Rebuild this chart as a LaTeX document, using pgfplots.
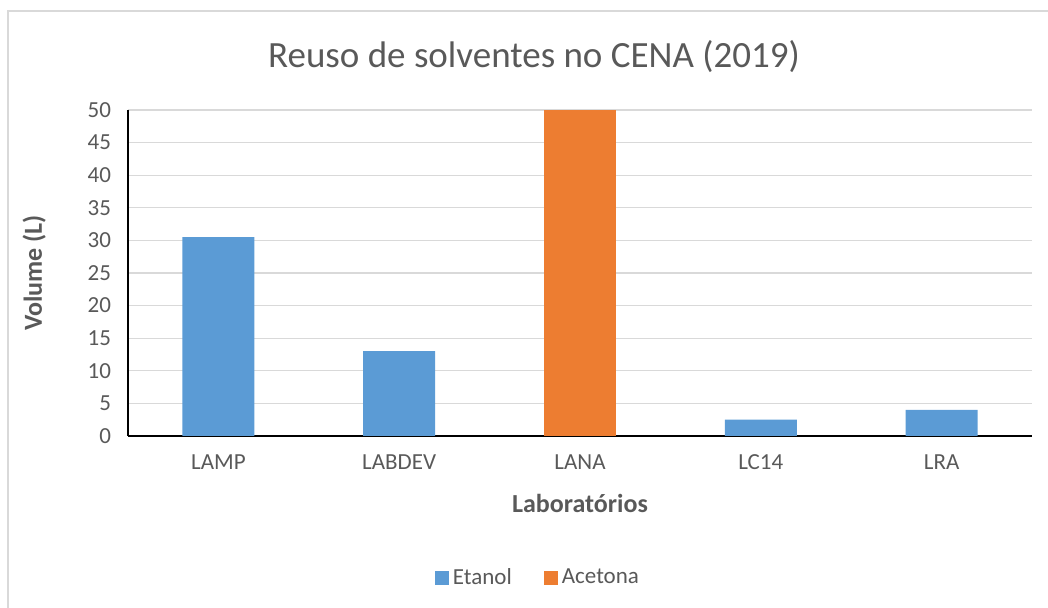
\documentclass[border=0pt]{standalone}
\usepackage{pgfplots}
\pgfplotsset{compat=1.18}
\usepackage{fontspec}
\setmainfont{Carlito}
\definecolor{etanol}{HTML}{5B9BD5}
\definecolor{acetona}{HTML}{ED7D31}
\definecolor{gridc}{HTML}{D9D9D9}
\definecolor{txt}{HTML}{595959}
\begin{document}
\begin{tikzpicture}
\useasboundingbox (0,0) rectangle (524pt,304pt);
\draw[gridc, line width=0.8pt] (4pt,-10pt) -- (4pt,298.5pt) -- (540pt,298.5pt);
\node[txt, font=\fontsize{18.5}{22}\selectfont] at (267pt,275.5pt) {Reuso de solventes no CENA (2019)};
\begin{axis}[
  at={(64pt,86pt)}, anchor=south west,
  scale only axis, width=452pt, height=163pt,
  xmin=-0.5, xmax=4.5, ymin=0, ymax=50,
  ytick={0,5,...,50},
  xtick={0,1,2,3,4},
  xticklabels={LAMP,LABDEV,LANA,LC14,LRA},
  major tick length=0pt,
  axis x line*=bottom, axis y line*=left,
  axis line style={black, line width=0.8pt},
  x axis line style={-}, y axis line style={-},
  xmajorgrids=false, ymajorgrids=true, grid style={gridc, line width=0.6pt},
  /pgf/number format/assume math mode=true,
  tick label style={txt, font=\fontsize{11.5}{13}\selectfont},
  yticklabel style={xshift=-5pt},
  xticklabel style={yshift=-6pt},
  xlabel={\textbf{Laboratórios}},
  ylabel={\textbf{Volume (L)}},
  label style={txt, font=\fontsize{13}{15}\selectfont},
  xlabel style={yshift=-5pt},
  ylabel style={yshift=14pt},
  ybar, bar width=36pt, bar shift=0pt,
  legend style={at={(0.4546,-0.4356)}, anchor=center, legend columns=2, draw=none,
    font=\fontsize{11.5}{13}\selectfont, text=txt,
    /tikz/every even column/.append style={column sep=14pt}},
  legend image code/.code={\fill[#1] (0pt,-3.5pt) rectangle (7pt,3.5pt);},
]
\addplot[fill=etanol, draw=none] coordinates {(0,30.5) (1,13) (3,2.5) (4,4)};
\addplot[fill=acetona, draw=none] coordinates {(2,50)};
\legend{Etanol,Acetona}
\end{axis}
\end{tikzpicture}
\end{document}
